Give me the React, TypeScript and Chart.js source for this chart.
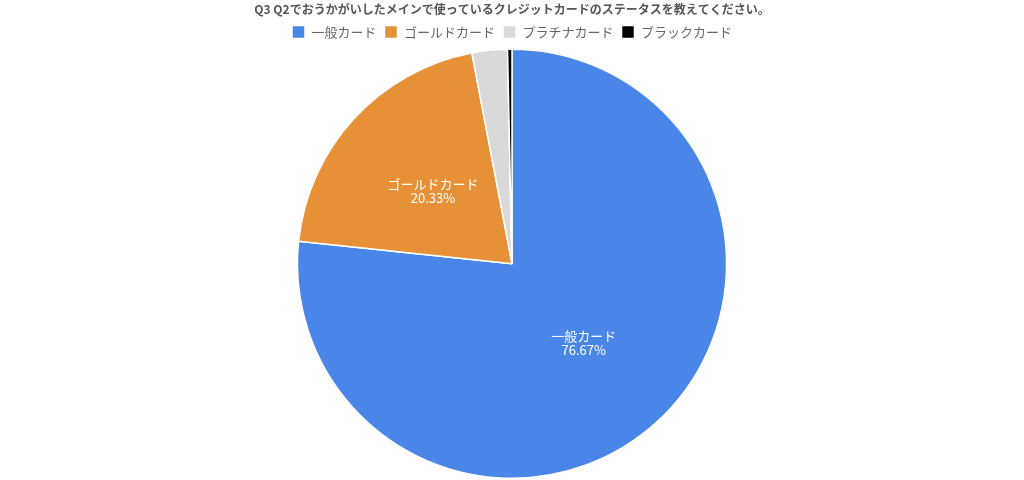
import React, { useEffect, useRef } from 'react';
import { Chart, registerables } from 'chart.js';

Chart.register(...registerables);

const titleText = 'Q3 Q2でおうかがいしたメインで使っているクレジットカードのステータスを教えてください。';
const categories = ['一般カード', 'ゴールドカード', 'プラチナカード', 'ブラックカード'];
const counts = [230, 61, 8, 1];
const colors = ['#4a86e8', '#e69138', '#d9d9d9', '#000000'];

const FONT = '"Noto Sans CJK JP", "Noto Sans", sans-serif';

// draws name + percent inside the bigger slices
const sliceLabels = {
  id: 'sliceLabels',
  afterDatasetsDraw(chart: any) {
    const ctx = chart.ctx;
    const meta = chart.getDatasetMeta(0);
    const data = chart.data.datasets[0].data as number[];
    const total = data.reduce((a, b) => a + b, 0);
    ctx.save();
    ctx.fillStyle = '#ffffff';
    ctx.font = `13px ${FONT}`;
    ctx.textAlign = 'center';
    ctx.textBaseline = 'middle';
    meta.data.forEach((arc: any, i: number) => {
      const pct = (data[i] / total) * 100;
      if (pct < 5) return;
      const { x, y, startAngle, endAngle, outerRadius } = arc.getProps(
        ['x', 'y', 'startAngle', 'endAngle', 'outerRadius'],
        true
      );
      const mid = (startAngle + endAngle) / 2;
      const r = outerRadius * 0.5;
      const cx = x + Math.cos(mid) * r;
      const cy = y + Math.sin(mid) * r;
      ctx.fillText(chart.data.labels[i], cx, cy - 7);
      ctx.fillText(pct.toFixed(2) + '%', cx, cy + 7);
    });
    ctx.restore();
  },
};

const App = () => {
  const chartRef = useRef<HTMLCanvasElement>(null);
  const chartInstance = useRef<Chart | null>(null);

  useEffect(() => {
    document.body.style.margin = '0';
    if (!chartRef.current) return;
    const ctx = chartRef.current.getContext('2d');
    if (!ctx) return;
    if (chartInstance.current) chartInstance.current.destroy();

    chartInstance.current = new Chart(ctx, {
      type: 'pie',
      data: {
        labels: categories,
        datasets: [
          {
            data: counts,
            backgroundColor: colors,
            borderColor: '#ffffff',
            borderWidth: 1.5,
          },
        ],
      },
      options: {
        responsive: true,
        maintainAspectRatio: false,
        animation: false,
        layout: { padding: { top: 0, bottom: 1 } },
        plugins: {
          title: {
            display: true,
            text: titleText,
            color: '#555555',
            font: { family: FONT, size: 12, weight: 'bold' },
            padding: { top: 2, bottom: 1 },
          },
          legend: {
            position: 'top',
            labels: {
              color: '#666666',
              font: { family: FONT, size: 13 },
              boxWidth: 13,
              boxHeight: 13,
              padding: 8,
            },
          },
          tooltip: { enabled: false },
        },
      },
      plugins: [sliceLabels],
    });

    return () => {
      if (chartInstance.current) {
        chartInstance.current.destroy();
        chartInstance.current = null;
      }
    };
  }, []);

  return (
    <div style={{ width: 1024, height: 480, position: 'relative' }}>
      <canvas ref={chartRef}></canvas>
    </div>
  );
};

export default App;
